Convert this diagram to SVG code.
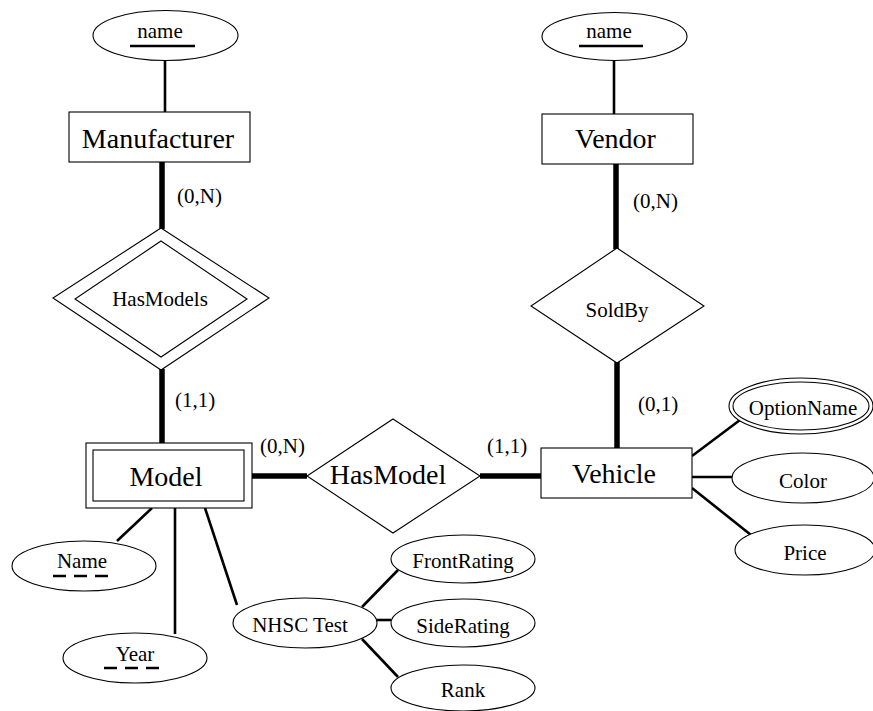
<svg xmlns="http://www.w3.org/2000/svg" width="873" height="711" viewBox="0 0 873 711">
<style>
.shape{fill:#fff;stroke:#000;stroke-width:1.1}
.big{font-family:"Liberation Serif","Times New Roman",serif;font-size:28px;text-anchor:middle;fill:#000}
.sm{font-family:"Liberation Serif","Times New Roman",serif;font-size:21px;text-anchor:middle;fill:#000}
.card{font-family:"Liberation Serif","Times New Roman",serif;font-size:21px;fill:#000}
.thin{stroke:#000;stroke-width:2.6;fill:none}
.thick{stroke:#000;stroke-width:5.5;fill:none}
.ul{stroke:#000;stroke-width:2.6}
.dul{stroke:#000;stroke-width:2.6;stroke-dasharray:13,8}
</style>
<g id="connectors">
<line class="thin" x1="165" y1="60" x2="165" y2="113"/>
<line class="thin" x1="614" y1="60" x2="614" y2="114"/>
<line class="thick" x1="162" y1="162" x2="162" y2="229"/>
<line class="thick" x1="162" y1="369" x2="162" y2="443"/>
<line class="thick" x1="616" y1="163" x2="616" y2="249"/>
<line class="thick" x1="617" y1="362" x2="617" y2="448"/>
<line class="thick" x1="252" y1="476" x2="307" y2="476"/>
<line class="thick" x1="480" y1="476" x2="541" y2="476"/>
<line class="thin" x1="152" y1="508" x2="117" y2="541"/>
<line class="thin" x1="175" y1="508" x2="175" y2="634"/>
<line class="thin" x1="205" y1="508" x2="237" y2="605"/>
<line class="thin" x1="362" y1="607" x2="398" y2="570"/>
<line class="thin" x1="377" y1="620" x2="391" y2="620"/>
<line class="thin" x1="362" y1="639" x2="398" y2="677"/>
<line class="thin" x1="692" y1="456" x2="740" y2="420"/>
<line class="thin" x1="692" y1="477" x2="733" y2="477"/>
<line class="thin" x1="692" y1="488" x2="751" y2="535"/>
<text class="card" x="177" y="203">(0,N)</text>
<text class="card" x="175" y="407">(1,1)</text>
<text class="card" x="633" y="208">(0,N)</text>
<text class="card" x="638" y="411">(0,1)</text>
<text class="card" x="260" y="453">(0,N)</text>
<text class="card" x="487" y="453">(1,1)</text>
</g>
<g id="mname">
<ellipse class="shape" cx="165.5" cy="35.5" rx="72.5" ry="25"/>
<text class="sm" x="160" y="38">name</text>
<line class="ul" x1="130" y1="46" x2="195" y2="46"/>
</g>
<g id="vname">
<ellipse class="shape" cx="614.5" cy="36.5" rx="72.5" ry="24"/>
<text class="sm" x="609" y="38">name</text>
<line class="ul" x1="579" y1="46" x2="643" y2="46"/>
</g>
<g id="manufacturer">
<rect class="shape" x="69" y="112" width="181" height="50"/>
<text class="big" x="158" y="148">Manufacturer</text>
</g>
<g id="vendor">
<rect class="shape" x="542" y="114" width="151" height="50"/>
<text class="big" x="615.5" y="148">Vendor</text>
</g>
<g id="hasmodels">
<polygon class="shape" points="161,228 269,298 161,370 53,298"/>
<polygon class="shape" points="161,241 247,299 161,357 75,299"/>
<text class="sm" x="160" y="306">HasModels</text>
</g>
<g id="soldby">
<polygon class="shape" points="617,248 704,306 617,363 531,306"/>
<text class="sm" x="617" y="317">SoldBy</text>
</g>
<g id="model">
<rect class="shape" x="86" y="443" width="166" height="65"/>
<rect class="shape" x="93" y="450" width="151" height="51"/>
<text class="big" x="166" y="486">Model</text>
</g>
<g id="hasmodel">
<polygon class="shape" points="393,419 480,476 393,533 307,476"/>
<text class="big" x="388" y="484">HasModel</text>
</g>
<g id="vehicle">
<rect class="shape" x="541" y="448" width="151" height="50"/>
<text class="big" x="614" y="483">Vehicle</text>
</g>
<g id="optionname">
<ellipse class="shape" cx="801" cy="406" rx="72" ry="28"/>
<ellipse class="shape" cx="801" cy="406" rx="68" ry="24"/>
<text class="sm" x="803" y="415">OptionName</text>
</g>
<g id="color">
<ellipse class="shape" cx="803" cy="478" rx="71" ry="25"/>
<text class="sm" x="803" y="488">Color</text>
</g>
<g id="price">
<ellipse class="shape" cx="805" cy="550" rx="70" ry="25"/>
<text class="sm" x="805" y="560">Price</text>
</g>
<g id="name">
<ellipse class="shape" cx="84" cy="566" rx="72" ry="25"/>
<text class="sm" x="82" y="568">Name</text>
<line class="dul" x1="53" y1="576" x2="110" y2="576"/>
</g>
<g id="year">
<ellipse class="shape" cx="135" cy="658" rx="72" ry="25"/>
<text class="sm" x="135" y="661">Year</text>
<line class="dul" x1="104" y1="668" x2="162" y2="668"/>
</g>
<g id="nhsc">
<ellipse class="shape" cx="305" cy="623" rx="72" ry="25"/>
<text class="sm" x="300" y="632">NHSC Test</text>
</g>
<g id="frontrating">
<ellipse class="shape" cx="463" cy="559" rx="72" ry="24"/>
<text class="sm" x="463" y="568">FrontRating</text>
</g>
<g id="siderating">
<ellipse class="shape" cx="463" cy="623" rx="72" ry="24"/>
<text class="sm" x="463" y="633">SideRating</text>
</g>
<g id="rank">
<ellipse class="shape" cx="463" cy="688" rx="72" ry="23"/>
<text class="sm" x="463" y="697">Rank</text>
</g>
</svg>
